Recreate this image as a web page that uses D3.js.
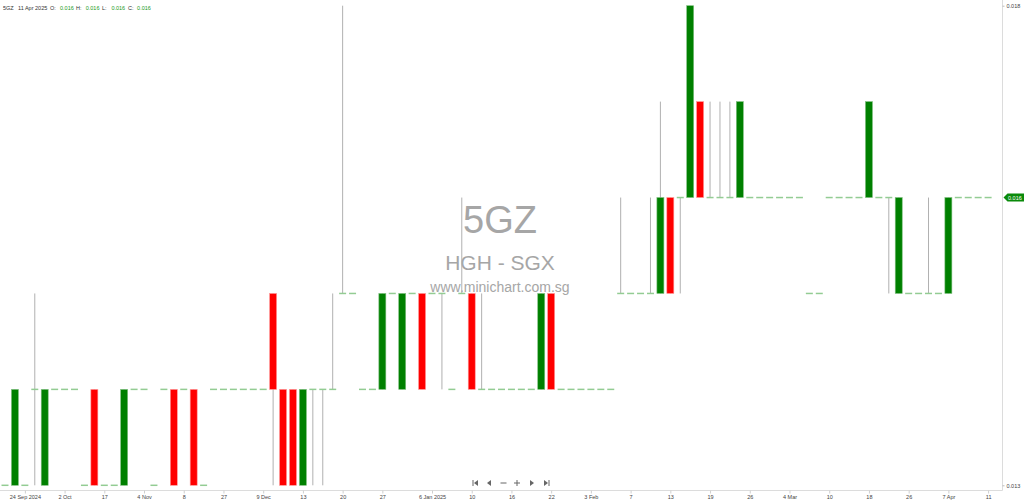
<!DOCTYPE html>
<html lang="en">
<head>
    <meta charset="UTF-8">
    <title>5GZ candlestick chart</title>
    <script src="https://cdn.jsdelivr.net/npm/d3@7"></script>
    <style>
        body { margin: 0; background: #fff; }
        svg { display: block; font-family: 'Liberation Sans', Arial, sans-serif; }
        .axis text { font-size: 5.5px; fill: #444; }
    </style>
</head>
<body>
<script>
// one slot per trading session shown on the chart (0 = leftmost)
var open = [
    0.013, 0.013, 0.013, 0.014, 0.013, 0.014, 0.014, 0.014, 0.013, 0.014,
    0.013, 0.013, 0.013, 0.014, 0.014, 0.013, 0.014, 0.014, 0.014, 0.014,
    0.013, 0.014, 0.014, 0.014, 0.014, 0.014, 0.014, 0.015, 0.014, 0.014,
    0.013, 0.014, 0.014, 0.014, 0.015, 0.015, 0.014, 0.014, 0.014, 0.015,
    0.014, 0.015, 0.015, 0.015, 0.015, 0.014, 0.015, 0.015, 0.014, 0.014,
    0.014, 0.014, 0.014, 0.014, 0.014, 0.015, 0.014, 0.014, 0.014, 0.014,
    0.014, 0.014, 0.015, 0.015, 0.015, 0.015, 0.015, 0.016, 0.016, 0.016,
    0.017, 0.016, 0.016, 0.016, 0.016, 0.016, 0.016, 0.016, 0.016, 0.016,
    0.016, 0.015, 0.015, 0.016, 0.016, 0.016, 0.016, 0.016, 0.016, 0.016,
    0.015, 0.015, 0.015, 0.015, 0.015, 0.015, 0.016, 0.016, 0.016, 0.016
];
var high = [
    0.013, 0.014, 0.013, 0.015, 0.014, 0.014, 0.014, 0.014, 0.013, 0.014,
    0.013, 0.013, 0.014, 0.014, 0.014, 0.013, 0.014, 0.014, 0.014, 0.014,
    0.013, 0.014, 0.014, 0.014, 0.014, 0.014, 0.014, 0.015, 0.014, 0.014,
    0.014, 0.014, 0.014, 0.015, 0.018, 0.015, 0.014, 0.014, 0.015, 0.015,
    0.015, 0.015, 0.015, 0.015, 0.015, 0.014, 0.016, 0.015, 0.015, 0.014,
    0.014, 0.014, 0.014, 0.014, 0.015, 0.015, 0.014, 0.014, 0.014, 0.014,
    0.014, 0.014, 0.016, 0.015, 0.015, 0.016, 0.017, 0.016, 0.016, 0.018,
    0.017, 0.017, 0.017, 0.017, 0.017, 0.016, 0.016, 0.016, 0.016, 0.016,
    0.016, 0.015, 0.015, 0.016, 0.016, 0.016, 0.016, 0.017, 0.016, 0.016,
    0.016, 0.015, 0.015, 0.016, 0.015, 0.016, 0.016, 0.016, 0.016, 0.016
];
var low = [
    0.013, 0.013, 0.013, 0.013, 0.013, 0.014, 0.014, 0.014, 0.013, 0.013,
    0.013, 0.013, 0.013, 0.014, 0.014, 0.013, 0.014, 0.013, 0.014, 0.013,
    0.013, 0.014, 0.014, 0.014, 0.014, 0.014, 0.014, 0.013, 0.013, 0.013,
    0.013, 0.013, 0.013, 0.014, 0.015, 0.015, 0.014, 0.014, 0.014, 0.015,
    0.014, 0.015, 0.014, 0.015, 0.014, 0.014, 0.015, 0.014, 0.014, 0.014,
    0.014, 0.014, 0.014, 0.014, 0.014, 0.014, 0.014, 0.014, 0.014, 0.014,
    0.014, 0.014, 0.015, 0.015, 0.015, 0.015, 0.015, 0.015, 0.015, 0.016,
    0.016, 0.016, 0.016, 0.016, 0.016, 0.016, 0.016, 0.016, 0.016, 0.016,
    0.016, 0.015, 0.015, 0.016, 0.016, 0.016, 0.016, 0.016, 0.016, 0.015,
    0.015, 0.015, 0.015, 0.015, 0.015, 0.015, 0.016, 0.016, 0.016, 0.016
];
var close = [
    0.013, 0.014, 0.013, 0.014, 0.014, 0.014, 0.014, 0.014, 0.013, 0.013,
    0.013, 0.013, 0.014, 0.014, 0.014, 0.013, 0.014, 0.013, 0.014, 0.013,
    0.013, 0.014, 0.014, 0.014, 0.014, 0.014, 0.014, 0.014, 0.013, 0.013,
    0.014, 0.014, 0.014, 0.014, 0.015, 0.015, 0.014, 0.014, 0.015, 0.015,
    0.015, 0.015, 0.014, 0.015, 0.015, 0.014, 0.015, 0.014, 0.014, 0.014,
    0.014, 0.014, 0.014, 0.014, 0.015, 0.014, 0.014, 0.014, 0.014, 0.014,
    0.014, 0.014, 0.015, 0.015, 0.015, 0.015, 0.016, 0.015, 0.016, 0.018,
    0.016, 0.016, 0.016, 0.016, 0.017, 0.016, 0.016, 0.016, 0.016, 0.016,
    0.016, 0.015, 0.015, 0.016, 0.016, 0.016, 0.016, 0.017, 0.016, 0.016,
    0.016, 0.015, 0.015, 0.015, 0.015, 0.016, 0.016, 0.016, 0.016, 0.016
];

// date axis labels and the slot they sit on
var tickSlots  = [2, 6, 10, 14, 18, 22, 26, 30, 34, 38, 43, 47, 51, 55, 59, 63, 67, 71, 75, 79, 83, 87, 91, 95, 99];
var tickLabels = ['24 Sep 2024', '2 Oct', '17', '4 Nov', '8', '27', '9 Dec', '13', '20', '27', '6 Jan 2025',
                  '10', '16', '22', '3 Feb', '7', '13', '19', '26', '4 Mar', '10', '18', '26', '7 Apr', '11'];
var priceTicks = [0.013, 0.018];
var lastPrice = 0.016;

var width = 1024, height = 502;
var plotRight = 1002.5, plotBottom = 490.5;

var svg = d3.select('body').append('svg')
    .attr('width', width)
    .attr('height', height);

var x = d3.scaleLinear().domain([0, 99]).range([5, 988.1]);
var y = d3.scaleLinear().domain([0.013, 0.018]).range([485.3, 5.7]);

// watermark
var wm = svg.append('g').attr('fill', '#a6a6a6').attr('text-anchor', 'middle');
wm.append('text').attr('x', 500).attr('y', 233).style('font-size', '38px').text('5GZ');
wm.append('text').attr('x', 500).attr('y', 270).style('font-size', '21px').text('HGH - SGX');
wm.append('text').attr('x', 500).attr('y', 291.5).style('font-size', '14px').text('www.minichart.com.sg');

// header line
var head = svg.append('text').attr('x', 3).attr('y', 10).style('font-size', '5.5px').attr('fill', '#333');
head.append('tspan').text('5GZ');
head.append('tspan').attr('x', 18).text('11 Apr 2025');
[['O:', open], ['H:', high], ['L:', low], ['C:', close]].forEach(function(p, i) {
    head.append('tspan').attr('x', 50 + i * 26).text(p[0]);
    head.append('tspan').attr('x', 60 + i * 25.7).attr('fill', '#1a9a1a')
        .text(d3.format('.3f')(p[1][p[1].length - 1]));
});

// axes
svg.append('line')
    .attr('x1', 0).attr('x2', plotRight)
    .attr('y1', plotBottom).attr('y2', plotBottom)
    .attr('stroke', '#dcdcdc');
svg.append('line')
    .attr('x1', plotRight).attr('x2', plotRight)
    .attr('y1', 0).attr('y2', plotBottom)
    .attr('stroke', '#dcdcdc');

var xAxis = d3.axisBottom(x)
    .tickValues(tickSlots)
    .tickFormat(function(d, i) { return tickLabels[i]; })
    .tickSize(3)
    .tickPadding(2);
var gx = svg.append('g').attr('class', 'axis')
    .attr('transform', 'translate(0,' + plotBottom + ')')
    .call(xAxis);
gx.select('.domain').remove();
gx.selectAll('.tick line').attr('stroke', '#cfcfcf');

var yAxis = d3.axisRight(y)
    .tickValues(priceTicks)
    .tickFormat(d3.format('.3f'))
    .tickSize(2)
    .tickPadding(2);
var gy = svg.append('g').attr('class', 'axis')
    .attr('transform', 'translate(' + plotRight + ',0)')
    .call(yAxis);
gy.select('.domain').remove();
gy.selectAll('.tick line').attr('stroke', '#bbb');

// candles
var slots = d3.range(open.length);
var bodyW = 7;
var g = svg.append('g');

// wicks
g.selectAll('line.wick')
    .data(slots.filter(function(i) { return high[i] > low[i]; }))
    .enter().append('line')
    .attr('class', 'wick')
    .attr('x1', function(i) { return x(i); })
    .attr('x2', function(i) { return x(i); })
    .attr('y1', function(i) { return y(high[i]); })
    .attr('y2', function(i) { return y(low[i]); })
    .attr('stroke', '#b0b0b0')
    .attr('stroke-width', 1);

// flat sessions: short light-green dash
g.selectAll('line.flat')
    .data(slots.filter(function(i) { return open[i] === close[i]; }))
    .enter().append('line')
    .attr('class', 'flat')
    .attr('x1', function(i) { return x(i) - bodyW / 2; })
    .attr('x2', function(i) { return x(i) + bodyW / 2; })
    .attr('y1', function(i) { return y(close[i]); })
    .attr('y2', function(i) { return y(close[i]); })
    .attr('stroke', '#93cc93')
    .attr('stroke-width', 1.5);

// bodies
g.selectAll('rect.body')
    .data(slots.filter(function(i) { return open[i] !== close[i]; }))
    .enter().append('rect')
    .attr('class', 'body')
    .attr('x', function(i) { return x(i) - bodyW / 2; })
    .attr('width', bodyW)
    .attr('y', function(i) { return y(Math.max(open[i], close[i])); })
    .attr('height', function(i) { return Math.abs(y(open[i]) - y(close[i])); })
    .attr('fill', function(i) { return close[i] > open[i] ? '#008000' : '#ff0000'; })
    .attr('stroke', function(i) { return close[i] > open[i] ? '#7fbf7f' : '#ff9a9a'; })
    .attr('stroke-width', 0.6);

// last price tag
var ty = y(lastPrice);
svg.append('path')
    .attr('d', 'M' + (plotRight + 1) + ',' + ty + 'L' + (plotRight + 5) + ',' + (ty - 4) +
               'L1024,' + (ty - 4) + 'L1024,' + (ty + 4) + 'L' + (plotRight + 5) + ',' + (ty + 4) + 'Z')
    .attr('fill', '#0a8a0a');
svg.append('text')
    .attr('x', plotRight + 5.5).attr('y', ty + 2)
    .style('font-size', '5.5px').attr('fill', '#fff')
    .text(d3.format('.3f')(lastPrice));

// navigation buttons
var nav = svg.append('g').attr('fill', '#666').attr('stroke', '#666');
var ny = 483;
nav.append('rect').attr('x', 472.5).attr('y', ny - 3).attr('width', 1).attr('height', 6).attr('stroke', 'none');
nav.append('path').attr('d', 'M474,' + ny + 'L478,' + (ny - 3) + 'L478,' + (ny + 3) + 'Z').attr('stroke', 'none');
nav.append('path').attr('d', 'M487,' + ny + 'L491,' + (ny - 3) + 'L491,' + (ny + 3) + 'Z').attr('stroke', 'none');
nav.append('line').attr('x1', 500.5).attr('x2', 506.5).attr('y1', ny).attr('y2', ny);
nav.append('line').attr('x1', 514).attr('x2', 520).attr('y1', ny).attr('y2', ny);
nav.append('line').attr('x1', 517).attr('x2', 517).attr('y1', ny - 3).attr('y2', ny + 3);
nav.append('path').attr('d', 'M534,' + ny + 'L530,' + (ny - 3) + 'L530,' + (ny + 3) + 'Z').attr('stroke', 'none');
nav.append('path').attr('d', 'M548,' + ny + 'L544,' + (ny - 3) + 'L544,' + (ny + 3) + 'Z').attr('stroke', 'none');
nav.append('rect').attr('x', 548.5).attr('y', ny - 3).attr('width', 1).attr('height', 6).attr('stroke', 'none');
</script>
</body>
</html>
